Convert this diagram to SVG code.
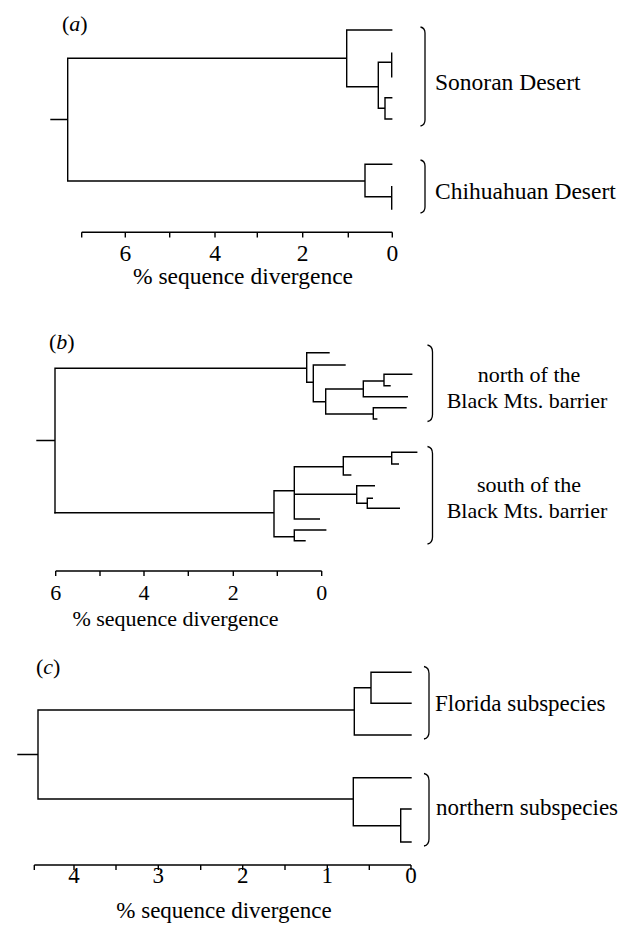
<svg xmlns="http://www.w3.org/2000/svg" width="628" height="927" viewBox="0 0 628 927" font-family="'Liberation Serif', 'Times New Roman', serif">
<style>
.t{fill:none;stroke:#000;stroke-width:1.4;stroke-linecap:square}
.ax{fill:none;stroke:#000;stroke-width:1.4}
.br{fill:none;stroke:#000;stroke-width:1.3}
text{font-family:'Liberation Serif','Times New Roman',serif;fill:#000}
.a{font-size:23.5px}
.b{font-size:22px}
.c{font-size:23px}
.m{text-anchor:middle}
</style>
<rect width="628" height="927" fill="#fff"/>

<!-- Panel (a) -->
<g id="panel-a">
  <text id="label-a" x="62" y="31" class="b" font-family="Liberation Serif, serif">(<tspan font-style="italic">a</tspan>)</text>
  <g id="connectors-a">
    <path class="t" d="M51,119.5H67.7 M67.7,58.3V181 M67.7,58.3H346.7 M346.7,30V86.7 M346.7,30H391.7 M346.7,86.7H378.3 M378.3,62.3V108.3 M378.3,62.3H391.7 M391.7,53.3V76.7 M378.3,108.3H385 M385,97.7V119 M385,97.7H391.7 M385,119H391.7 M67.7,181H365 M365,164.3V196.7 M365,164.3H391.7 M365,196.7H391.7 M391.7,186.7V209"/>
  </g>
  <g id="clade-sonoran">
    <path class="br" d="M420.5,27 Q425,28 425,33 V120 Q425,125 420.5,126"/>
    <text x="435" y="90" class="a" font-family="Liberation Serif, serif">Sonoran Desert</text>
  </g>
  <g id="clade-chihuahuan">
    <path class="br" d="M420.5,160 Q425,161 425,166 V207 Q425,212 420.5,213"/>
    <text x="435" y="199" class="a" font-family="Liberation Serif, serif">Chihuahuan Desert</text>
  </g>
  <g id="axis-a" font-family="Liberation Serif, serif">
    <path class="ax" d="M81.7,232.3H392.3 M81.7,232.3v5.2 M125.3,232.3v5.2 M169.7,232.3v5.2 M215,232.3v5.2 M257.3,232.3v5.2 M302.7,232.3v5.2 M348.3,232.3v5.2 M392.3,232.3v5.2"/>
    <text x="125.3" y="261" class="a m">6</text>
    <text x="215" y="261" class="a m">4</text>
    <text x="302.7" y="261" class="a m">2</text>
    <text x="392.3" y="261" class="a m">0</text>
    <text x="243" y="284" class="a m">% sequence divergence</text>
  </g>
</g>

<!-- Panel (b) -->
<g id="panel-b" font-family="Liberation Serif, serif">
  <text id="label-b" x="49" y="349" class="b">(<tspan font-style="italic">b</tspan>)</text>
  <g id="connectors-b">
    <path class="t" d="M37,440.5H55 M55,368.3V512.7 M55,368.3H306.7 M306.7,352.7V382.3 M306.7,352.7H329 M306.7,382.3H313.3 M313.3,365V401.7 M313.3,365H345 M313.3,401.7H325.7 M325.7,389V414 M325.7,389H363.3 M363.3,381V396.7 M363.3,381H384 M384,374.3V385.7 M384,374.3H411.7 M384,385.7H390 M363.3,396.7H407.3 M325.7,414H373.3 M373.3,407.7V419 M373.3,407.7H406 M373.3,419H376.7"/>
    <path class="t" d="M55,512.7H274 M274,490.7V536.7 M274,490.7H294.3 M294.3,466.7V519 M294.3,466.7H343.3 M343.3,456.7V475 M343.3,456.7H391.7 M391.7,452.3V464 M391.7,452.3H416.7 M391.7,464H398.3 M343.3,475H350.7 M294.3,494.3H356.7 M356.7,485.7V503.3 M356.7,485.7H374.3 M356.7,503.3H367.3 M367.3,498.3V508.3 M367.3,498.3H372.3 M367.3,508.3H399.3 M294.3,519H319.3 M274,536.7H294.3 M294.3,530V540.7 M294.3,530H325.7 M294.3,540.7H305"/>
  </g>
  <g id="clade-north">
    <path class="br" d="M427.5,345 Q432.5,346 432.5,352 V414.5 Q432.5,420.5 427.5,421.5"/>
    <text x="529" y="381.5" class="b m">north of the</text>
    <text x="527" y="408" class="b m">Black Mts. barrier</text>
  </g>
  <g id="clade-south">
    <path class="br" d="M427.5,446.5 Q432.5,447.5 432.5,453.5 V537 Q432.5,543 427.5,544"/>
    <text x="529" y="491.5" class="b m">south of the</text>
    <text x="527" y="518" class="b m">Black Mts. barrier</text>
  </g>
  <g id="axis-b">
    <path class="ax" d="M55.7,571H321.7 M55.7,571v5 M100,571v5 M144,571v5 M188.3,571v5 M233.3,571v5 M277.3,571v5 M321.7,571v5"/>
    <text x="55.7" y="600" class="b m">6</text>
    <text x="144" y="600" class="b m">4</text>
    <text x="233.3" y="600" class="b m">2</text>
    <text x="321.7" y="600" class="b m">0</text>
    <text x="175.5" y="626" class="b m">% sequence divergence</text>
  </g>
</g>

<!-- Panel (c) -->
<g id="panel-c" font-family="Liberation Serif, serif">
  <text id="label-c" x="36" y="674" class="b">(<tspan font-style="italic">c</tspan>)</text>
  <g id="connectors-c">
    <path class="t" d="M18,754.5H38 M38,710V799 M38,710H354.3 M354.3,687.7V735 M354.3,687.7H371 M371,672.3V703.3 M371,672.3H411 M371,703.3H411 M354.3,735H411 M38,799H353.3 M353.3,777.7V825.7 M353.3,777.7H411 M353.3,825.7H400.7 M400.7,809V842 M400.7,809H411 M400.7,842H411"/>
  </g>
  <g id="clade-florida">
    <path class="br" d="M424,666.5 Q429,667.5 429,673.5 V732 Q429,738 424,739"/>
    <text x="435" y="711" class="c">Florida subspecies</text>
  </g>
  <g id="clade-northern">
    <path class="br" d="M424,773.5 Q429,774.5 429,780.5 V839 Q429,845 424,846"/>
    <text x="436" y="815" class="c">northern subspecies</text>
  </g>
  <g id="axis-c">
    <path class="ax" d="M34.3,865H411 M34.3,865v5 M74,865v5 M116,865v5 M158.3,865v5 M200.7,865v5 M242.7,865v5 M285,865v5 M327.3,865v5 M369.3,865v5 M411,865v5"/>
    <text x="74" y="883" class="c m">4</text>
    <text x="158.3" y="883" class="c m">3</text>
    <text x="242.7" y="883" class="c m">2</text>
    <text x="327.3" y="883" class="c m">1</text>
    <text x="411" y="883" class="c m">0</text>
    <text x="224" y="918" class="c m">% sequence divergence</text>
  </g>
</g>
</svg>
